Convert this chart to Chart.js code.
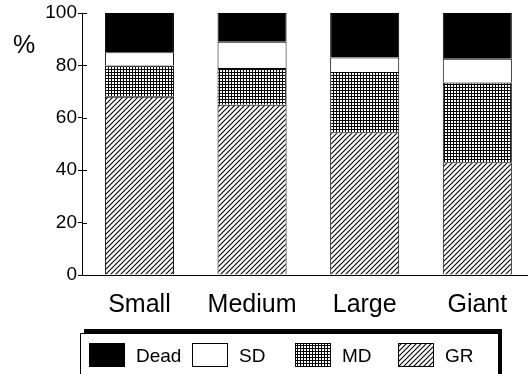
<!DOCTYPE html>
<html>
<head>
<meta charset="utf-8">
<script src="https://cdn.jsdelivr.net/npm/chart.js@4/dist/chart.umd.min.js"></script>
<style>
  html, body { margin: 0; padding: 0; background: #fff; }
  #wrap { width: 528px; height: 374px; position: relative; }
</style>
</head>
<body>
<div id="wrap"><canvas id="c" width="528" height="374"></canvas></div>
<script>
const categories = ['Small', 'Medium', 'Large', 'Giant'];
const grValues   = [68, 65, 54.5, 43];
const mdValues   = [12, 14, 23, 30.5];
const sdValues   = [5, 10, 5.5, 9];
const deadValues = [15, 11, 17, 17.5];
const yTicks     = [0, 20, 40, 60, 80, 100];
const seriesLabels = ['GR', 'MD', 'SD', 'Dead'];

const FONT = '"Liberation Sans", Arial, Helvetica, sans-serif';

function hatchPattern() {
  const c = document.createElement('canvas');
  c.width = 5; c.height = 5;
  const x = c.getContext('2d');
  x.fillStyle = '#fff'; x.fillRect(0, 0, 5, 5);
  x.strokeStyle = '#000'; x.lineWidth = 1.1;
  x.beginPath();
  x.moveTo(-1, 6); x.lineTo(6, -1);
  x.moveTo(-1, 1); x.lineTo(1, -1);
  x.moveTo(4, 6); x.lineTo(6, 4);
  x.stroke();
  return x.createPattern(c, 'repeat');
}
function gridPattern() {
  const c = document.createElement('canvas');
  c.width = 3; c.height = 3;
  const x = c.getContext('2d');
  x.fillStyle = '#fff'; x.fillRect(0, 0, 3, 3);
  x.fillStyle = '#000';
  x.fillRect(0, 0, 3, 1);
  x.fillRect(0, 0, 1, 3);
  return x.createPattern(c, 'repeat');
}

const ctx = document.getElementById('c').getContext('2d');
const fills = [hatchPattern(), gridPattern(), '#ffffff', '#000000'];
const seriesValues = [grValues, mdValues, sdValues, deadValues];

const datasets = seriesValues.map((vals, k) => ({
  label: seriesLabels[k],
  data: vals.map((v, i) => ({ x: i, y: v })),
  backgroundColor: fills[k],
  borderColor: '#000',
  borderWidth: 1,
  barPercentage: 0.613,
  categoryPercentage: 1
}));

const extrasPlugin = {
  id: 'extras',
  afterDraw(chart) {
    const c = chart.ctx;
    const ys = chart.scales.y;
    const area = chart.chartArea;
    c.save();
    c.strokeStyle = '#000'; c.lineWidth = 1;
    yTicks.forEach(t => {
      const py = Math.round(ys.getPixelForValue(t)) + 0.5;
      c.beginPath();
      c.moveTo(area.left, py); c.lineTo(area.left + 5, py);
      c.stroke();
    });
    c.fillStyle = '#000';
    c.font = '25px ' + FONT;
    c.textBaseline = 'alphabetic';
    c.textAlign = 'left';
    c.fillText('%', 13, 53);

    c.fillStyle = '#000';
    c.fillRect(84, 329, 418, 60);
    c.fillStyle = '#fff';
    c.fillRect(81, 333, 417, 60);
    c.strokeStyle = '#000';
    c.beginPath();
    c.moveTo(80.5, 380); c.lineTo(80.5, 333.5); c.lineTo(498, 333.5);
    c.stroke();

    const order = [3, 2, 1, 0];
    c.font = '19px ' + FONT;
    order.forEach((k, j) => {
      const sx = 89 + j * 103;
      c.fillStyle = chart.data.datasets[k].backgroundColor;
      c.fillRect(sx, 343, 36, 24);
      c.strokeStyle = '#000';
      c.strokeRect(sx + 0.5, 343.5, 35, 23);
      c.fillStyle = '#000';
      c.fillText(chart.data.datasets[k].label, sx + 47, 362);
    });
    c.restore();
  }
};

new Chart(ctx, {
  type: 'bar',
  data: { datasets },
  options: {
    responsive: false,
    animation: false,
    layout: { padding: { top: 13, left: 0, right: 0, bottom: 0 } },
    plugins: { legend: { display: false }, tooltip: { enabled: false } },
    scales: {
      x: {
        type: 'linear',
        stacked: true,
        offset: false,
        min: -0.51,
        max: 3.45,
        afterBuildTicks(scale) { scale.ticks = categories.map((c, i) => ({ value: i })); },
        afterFit(scale) { scale.height = 99; },
        grid: { display: false, offset: false },
        border: { display: true, color: '#000', width: 1 },
        ticks: {
          color: '#000',
          font: { family: FONT, size: 25 },
          padding: 7,
          maxRotation: 0,
          autoSkip: false,
          callback: (v) => categories[v]
        }
      },
      y: {
        stacked: true,
        min: 0,
        max: 100,
        afterFit(scale) { scale.width = 82; },
        afterBuildTicks(scale) { scale.ticks = yTicks.map(v => ({ value: v })); },
        grid: { drawOnChartArea: false, drawTicks: true, tickLength: 4, color: '#000' },
        border: { display: true, color: '#000', width: 1 },
        ticks: {
          color: '#000',
          font: { family: FONT, size: 19 },
          padding: 1
        }
      }
    }
  },
  plugins: [extrasPlugin]
});
</script>
</body>
</html>
